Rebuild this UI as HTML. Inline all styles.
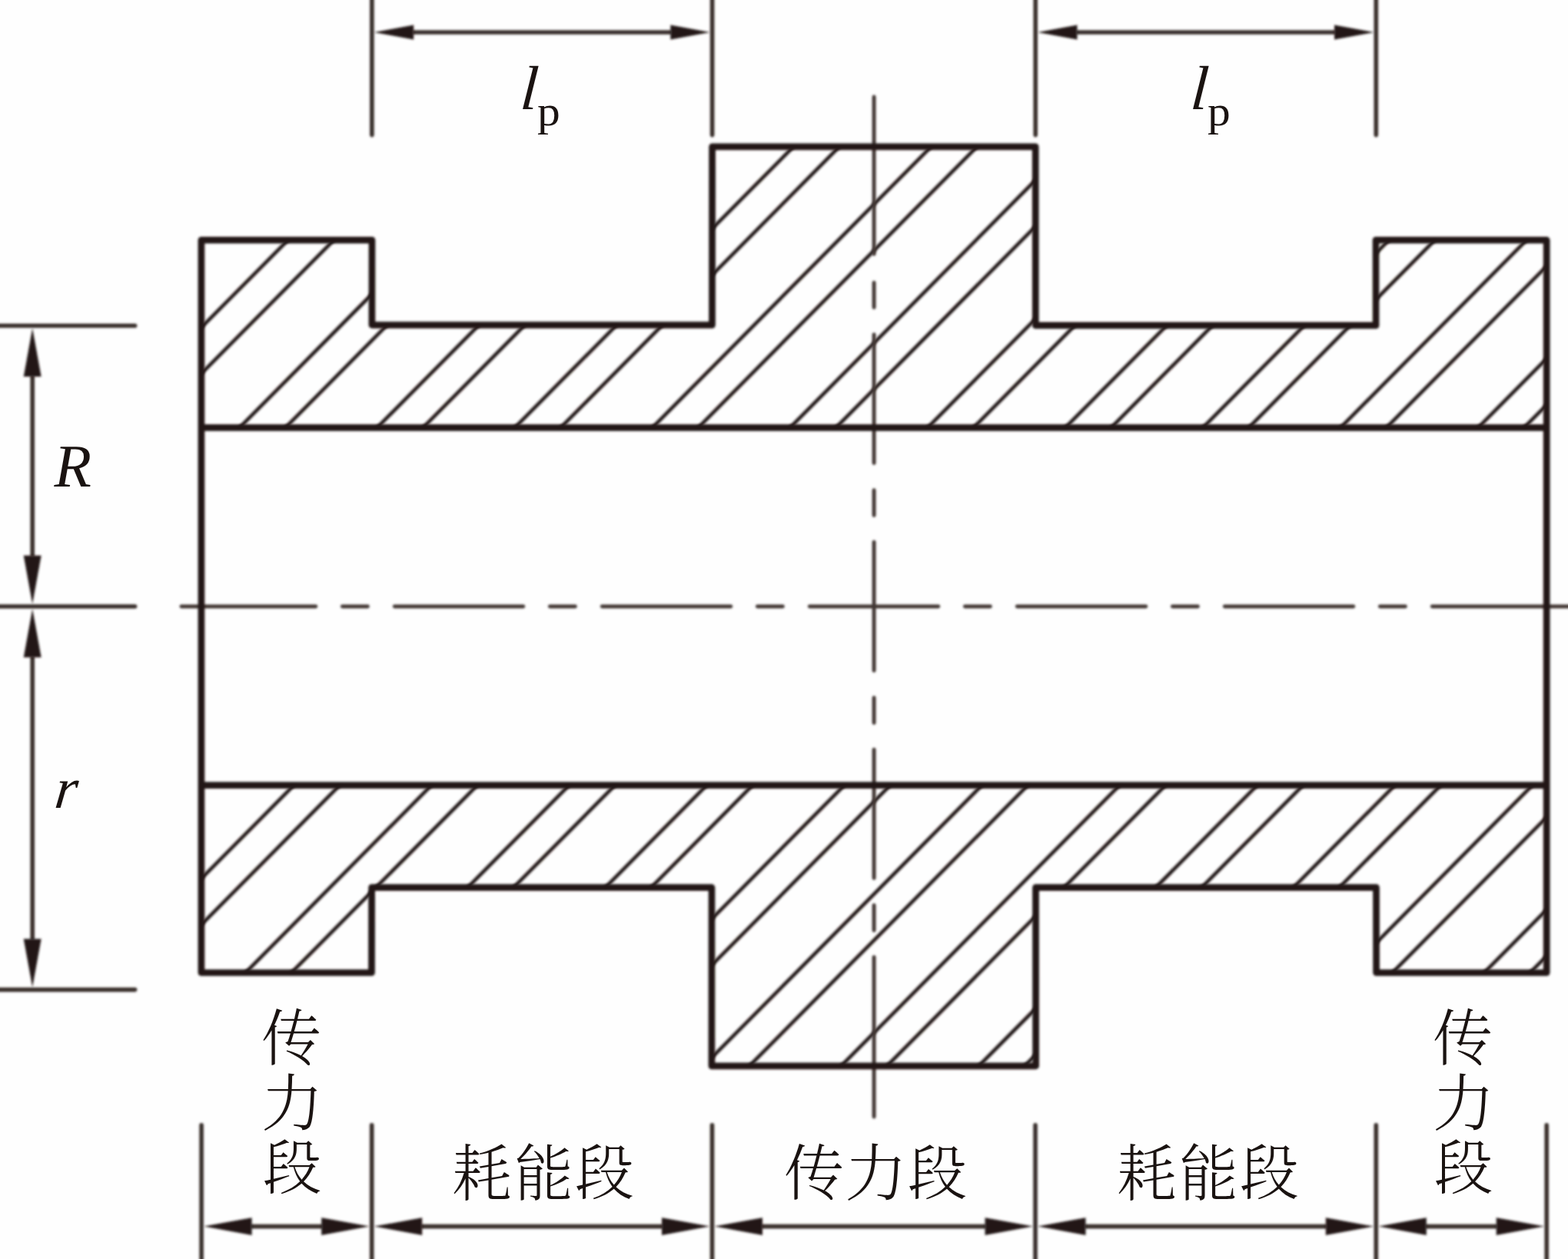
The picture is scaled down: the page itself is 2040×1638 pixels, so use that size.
<!DOCTYPE html>
<html lang="zh-CN">
<head>
<meta charset="utf-8">
<title>耗能段 传力段</title>
<style>
html,body{margin:0;padding:0;background:#fefefe;}
body{width:2040px;height:1638px;overflow:hidden;position:relative;}
svg{position:absolute;left:0;top:0;display:block;}
.cn{font-family:"Liberation Serif","Noto Serif CJK SC",serif;font-weight:300;fill:#1a1311;}
.it{font-family:"Liberation Serif",serif;font-style:italic;fill:#1a1311;}
.rm{font-family:"Liberation Serif",serif;fill:#1a1311;}
</style>
</head>
<body>
<svg xmlns="http://www.w3.org/2000/svg" width="2040" height="1638" viewBox="0 0 2040 1638">
<defs>
<clipPath id="cu"><path d="M261.9,312.3 L484.0,312.3 L483.9,422.8 L926.5,422.8 L926.6,190.9 L1347.2,190.9 L1347.3,423.4 L1790.1,423.4 L1790.0,312.3 L2012.2,312.3 L2012.2,556.4 L261.9,556.4 Z"/></clipPath>
<clipPath id="cl"><path d="M261.9,1021.6 L2012.2,1021.6 L2012.2,1265.5 L1790.6,1265.5 L1790.5,1154.7 L1347.5,1154.7 L1347.6,1386.8 L925.9,1386.8 L926.0,1154.7 L483.6,1154.7 L483.5,1265.5 L261.9,1265.5 Z"/></clipPath>
<filter id="soft" x="-2%" y="-2%" width="104%" height="104%" filterUnits="objectBoundingBox"><feGaussianBlur stdDeviation="1.4"/></filter>
<filter id="soft2" x="-2%" y="-2%" width="104%" height="104%" filterUnits="objectBoundingBox"><feGaussianBlur stdDeviation="1.4"/></filter>
</defs>
<rect width="2040" height="1638" fill="#fefefe"/>
<g filter="url(#soft)">
<rect x="-20" y="-20" width="2080" height="1678" fill="none"/>

<g fill="none" stroke="#211713" stroke-width="4.6">
<path clip-path="url(#cu)" d="M-66.3,576.4 L335.9,170.9 M-6.6,576.4 L395.6,170.9 M112.7,576.4 L515.0,170.9 M172.4,576.4 L574.7,170.9 M291.8,576.4 L694.0,170.9 M351.5,576.4 L753.7,170.9 M470.8,576.4 L873.1,170.9 M530.5,576.4 L932.8,170.9 M649.9,576.4 L1052.1,170.9 M709.6,576.4 L1111.8,170.9 M828.9,576.4 L1231.2,170.9 M888.6,576.4 L1290.9,170.9 M1008.0,576.4 L1410.2,170.9 M1067.7,576.4 L1469.9,170.9 M1187.0,576.4 L1589.3,170.9 M1246.7,576.4 L1649.0,170.9 M1366.1,576.4 L1768.3,170.9 M1425.8,576.4 L1828.0,170.9 M1545.1,576.4 L1947.4,170.9 M1604.8,576.4 L2007.1,170.9 M1724.2,576.4 L2126.4,170.9 M1783.9,576.4 L2186.1,170.9 M1903.2,576.4 L2305.5,170.9 M1962.9,576.4 L2365.2,170.9"/>
<path clip-path="url(#cl)" d="M-119.1,1406.8 L282.8,1001.6 M0.2,1406.8 L402.2,1001.6 M59.9,1406.8 L461.9,1001.6 M179.3,1406.8 L581.2,1001.6 M239.0,1406.8 L640.9,1001.6 M358.3,1406.8 L760.3,1001.6 M418.0,1406.8 L820.0,1001.6 M537.4,1406.8 L939.3,1001.6 M597.1,1406.8 L999.0,1001.6 M716.4,1406.8 L1118.4,1001.6 M776.1,1406.8 L1178.1,1001.6 M895.5,1406.8 L1297.4,1001.6 M955.2,1406.8 L1357.1,1001.6 M1074.5,1406.8 L1476.5,1001.6 M1134.2,1406.8 L1536.2,1001.6 M1253.6,1406.8 L1655.5,1001.6 M1313.3,1406.8 L1715.2,1001.6 M1432.6,1406.8 L1834.6,1001.6 M1492.3,1406.8 L1894.3,1001.6 M1611.7,1406.8 L2013.6,1001.6 M1671.4,1406.8 L2073.3,1001.6 M1790.7,1406.8 L2192.7,1001.6 M1850.4,1406.8 L2252.4,1001.6 M1969.8,1406.8 L2371.7,1001.6"/>
</g>
</g>
<g filter="url(#soft2)">
<rect x="-20" y="-20" width="2080" height="1678" fill="none"/>
<g fill="none" stroke="#382e2a" stroke-width="5.6" stroke-linecap="round">
<path d="M483.9,-8 V175.6"/>
<path d="M926.6,-8 V175.6"/>
<path d="M1347.2,-8 V175.6"/>
<path d="M1790.3,-8 V175.6"/>
<path d="M-8,423.8 H175.6"/>
<path d="M-8,789.0 H175.6"/>
<path d="M-8,1287.6 H175.6"/>
<path d="M262.1,1463.8 V1650"/>
<path d="M483.7,1463.8 V1650"/>
<path d="M926.5,1463.8 V1650"/>
<path d="M1347.0,1463.8 V1650"/>
<path d="M1790.3,1463.8 V1650"/>
<path d="M2012.2,1463.8 V1650"/>
</g>
<g fill="none" stroke="#382e2a" stroke-width="5.6" stroke-linecap="butt">
<path d="M536.2,42.0 H874.3"/>
<path d="M1399.5,42.0 H1738.0"/>
<path d="M42.2,488.0 V724.8"/>
<path d="M42.2,853.2 V1223.4"/>
<path d="M325.6,1595.6 H420.2"/>
<path d="M547.2,1595.6 H863.0"/>
<path d="M990.0,1595.6 H1283.5"/>
<path d="M1410.5,1595.6 H1726.8"/>
<path d="M1853.8,1595.6 H1948.7"/>
</g>
<g fill="none" stroke="#403633" stroke-width="4.9" stroke-linecap="round">
<path d="M236.0,789.0 H410.8 M445.4,789.0 H478.4 M513.3,789.0 H680.8 M715.4,789.0 H748.4 M783.3,789.0 H950.8 M985.4,789.0 H1018.4 M1053.3,789.0 H1220.8 M1255.4,789.0 H1288.4 M1323.3,789.0 H1490.8 M1525.4,789.0 H1558.4 M1593.3,789.0 H1760.8 M1795.4,789.0 H1828.4 M1863.3,789.0 H2050.0"/>
<path d="M1137.1,126.0 V330.5 M1137.1,367.6 V400.0 M1137.1,435.1 V602.6 M1137.1,637.6 V670.6 M1137.1,705.1 V872.6 M1137.1,907.6 V940.6 M1137.1,975.1 V1142.6 M1137.1,1177.6 V1210.6 M1137.1,1245.1 V1453.0"/>
</g>
</g>
<g filter="url(#soft)">
<rect x="-20" y="-20" width="2080" height="1678" fill="none"/>
<g fill="#211713" stroke="none">
<path d="M486.7,42.0 L538.2,32.6 L538.2,51.4 Z"/>
<path d="M923.8,42.0 L872.3,51.4 L872.3,32.6 Z"/>
<path d="M1350.0,42.0 L1401.5,32.6 L1401.5,51.4 Z"/>
<path d="M1787.5,42.0 L1736.0,51.4 L1736.0,32.6 Z"/>
<path d="M42.2,427.0 L53.7,490.0 L30.7,490.0 Z"/>
<path d="M42.2,785.8 L30.7,722.8 L53.7,722.8 Z"/>
<path d="M42.2,792.2 L53.7,855.2 L30.7,855.2 Z"/>
<path d="M42.2,1284.4 L30.7,1221.4 L53.7,1221.4 Z"/>
<path d="M265.1,1595.6 L327.6,1584.3 L327.6,1606.9 Z"/>
<path d="M480.7,1595.6 L418.2,1606.9 L418.2,1584.3 Z"/>
<path d="M486.7,1595.6 L549.2,1584.3 L549.2,1606.9 Z"/>
<path d="M923.5,1595.6 L861.0,1606.9 L861.0,1584.3 Z"/>
<path d="M929.5,1595.6 L992.0,1584.3 L992.0,1606.9 Z"/>
<path d="M1344.0,1595.6 L1281.5,1606.9 L1281.5,1584.3 Z"/>
<path d="M1350.0,1595.6 L1412.5,1584.3 L1412.5,1606.9 Z"/>
<path d="M1787.3,1595.6 L1724.8,1606.9 L1724.8,1584.3 Z"/>
<path d="M1793.3,1595.6 L1855.8,1584.3 L1855.8,1606.9 Z"/>
<path d="M2009.2,1595.6 L1946.7,1606.9 L1946.7,1584.3 Z"/>
</g>
<g fill="none" stroke="#211713" stroke-width="8.7" stroke-linejoin="round" stroke-linecap="butt">
<path d="M261.9,312.3 L484.0,312.3 L483.9,422.8 L926.5,422.8 L926.6,190.9 L1347.2,190.9 L1347.3,423.4 L1790.1,423.4 L1790.0,312.3 L2012.2,312.3 L2012.2,1265.5 L1790.6,1265.5 L1790.5,1154.7 L1347.5,1154.7 L1347.6,1386.8 L925.9,1386.8 L926.0,1154.7 L483.6,1154.7 L483.5,1265.5 L261.9,1265.5 Z"/>
<path d="M261.9,556.4 H2012.2 M261.9,1021.6 H2012.2"/>
</g>
</g>
<g>
<text class="it" font-size="81.01" transform="translate(675.85,142.10) skewX(-4.26)">l</text>
<text class="rm" font-size="53.92" transform="translate(699.01,163.34) scale(1.1044,1)">p</text>
<text class="it" font-size="81.01" transform="translate(1547.85,142.10) skewX(-4.26)">l</text>
<text class="rm" font-size="53.92" transform="translate(1571.01,163.34) scale(1.1044,1)">p</text>
<text class="it" font-size="79.24" transform="translate(70.40,632.60) skewX(-0.06)">R</text>
<text class="it" font-size="75.11" transform="translate(69.60,1050.90) skewX(-6.50)">r</text>
<text class="cn" font-size="79.46" transform="translate(340.36,1379.14) scale(0.9799,1)">传</text>
<text class="cn" font-size="80.77" transform="translate(340.07,1463.84) scale(0.9978,1)">力</text>
<text class="cn" font-size="77.36" transform="translate(342.00,1547.00) scale(0.9876,1)">段</text>
<text class="cn" font-size="79.46" transform="translate(1864.26,1379.14) scale(0.9799,1)">传</text>
<text class="cn" font-size="80.77" transform="translate(1863.97,1463.84) scale(0.9978,1)">力</text>
<text class="cn" font-size="77.36" transform="translate(1865.90,1547.00) scale(0.9876,1)">段</text>
<text class="cn" font-size="79.56" transform="translate(588.27,1554.93) scale(0.9746,1)">耗</text>
<text class="cn" font-size="79.35" transform="translate(669.05,1554.85) scale(0.9687,1)">能</text>
<text class="cn" font-size="78.13" transform="translate(747.98,1553.84) scale(0.9846,1)">段</text>
<text class="cn" font-size="79.56" transform="translate(1453.32,1554.93) scale(0.9746,1)">耗</text>
<text class="cn" font-size="79.35" transform="translate(1534.10,1554.85) scale(0.9687,1)">能</text>
<text class="cn" font-size="78.13" transform="translate(1613.03,1553.84) scale(0.9846,1)">段</text>
<text class="cn" font-size="79.02" transform="translate(1020.26,1554.78) scale(0.9880,1)">传</text>
<text class="cn" font-size="80.88" transform="translate(1099.15,1554.83) scale(1.0008,1)">力</text>
<text class="cn" font-size="77.69" transform="translate(1180.88,1553.88) scale(0.9943,1)">段</text>
</g>
</svg>
</body>
</html>
